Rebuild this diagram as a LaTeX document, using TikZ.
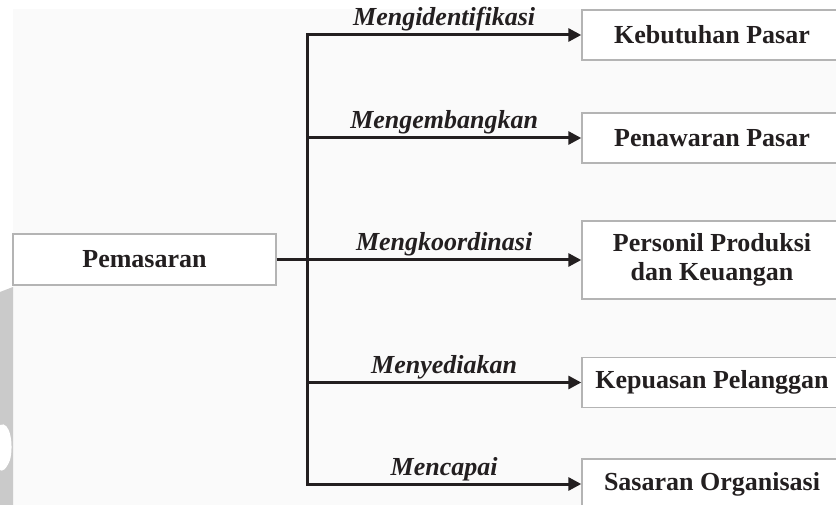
\documentclass[tikz,border=0pt]{standalone}
\usepackage{fontspec}
\setmainfont{Liberation Serif}
\usetikzlibrary{arrows.meta}
\definecolor{ink}{HTML}{231F20}
\definecolor{boxline}{HTML}{B4B4B4}
\definecolor{paper}{HTML}{FAFAFA}
\definecolor{wmgrey}{HTML}{CACACA}
\tikzset{
  box/.style={draw=boxline, line width=1.4pt, fill=white, inner sep=0pt, align=center,
    text=ink, font=\fontsize{26}{29}\selectfont\bfseries},
  conn/.style={draw=ink, line width=3pt},
  arr/.style={conn, -{Triangle[length=13pt,width=13pt]}},
  lbl/.style={text=ink, font=\fontsize{26}{29}\selectfont\bfseries\itshape, anchor=base, inner sep=0pt}
}
\begin{document}
\begin{tikzpicture}[x=1pt,y=-1pt]
\useasboundingbox (0,0) rectangle (836,505);
\clip (0,0) rectangle (836,505);
\fill[white] (0,0) rectangle (836,505);
\fill[paper] (13,9) rectangle (836,505);
\fill[wmgrey] (0,292) -- (13,287) -- (13,505) -- (0,505) -- cycle;
\fill[white] (0,425) .. controls (10,420) and (14,445) .. (10,460) .. controls (6,470) and (2,472) .. (0,470) -- cycle;

\node[box, minimum width=263pt, minimum height=51pt] (pem) at (144.5,259.5) {Pemasaran};
\node[box, minimum width=260pt, minimum height=50pt] (b1) at (712,35) {Kebutuhan Pasar};
\node[box, minimum width=260pt, minimum height=50pt] (b2) at (712,138) {Penawaran Pasar};
\node[box, minimum width=260pt, minimum height=78pt] (b3) at (712,260) {Personil Produksi\\dan Keuangan};
\node[box, minimum width=260pt, minimum height=50pt] (b4) at (712,382.5) {Kepuasan Pelanggan};
\node[box, minimum width=260pt, minimum height=50pt] (b5) at (712,484) {Sasaran Organisasi};

\coordinate (t1) at (307,35);
\coordinate (t2) at (307,138);
\coordinate (t3) at (307,260);
\coordinate (t4) at (307,382.5);
\coordinate (t5) at (307,484);

\draw[conn] (pem.east |- t3) -- (t3);
\draw[conn, line cap=rect] (t1) -- (t5);
\draw[arr] (t1) -- (b1.west) node[lbl, midway, yshift=9pt] {Mengidentifikasi};
\draw[arr] (t2) -- (b2.west) node[lbl, midway, yshift=9pt] {Mengembangkan};
\draw[arr] (t3) -- (b3.west) node[lbl, midway, yshift=9pt] {Mengkoordinasi};
\draw[arr] (t4) -- (b4.west) node[lbl, midway, yshift=9pt] {Menyediakan};
\draw[arr] (t5) -- (b5.west) node[lbl, midway, yshift=9pt] {Mencapai};
\end{tikzpicture}
\end{document}
